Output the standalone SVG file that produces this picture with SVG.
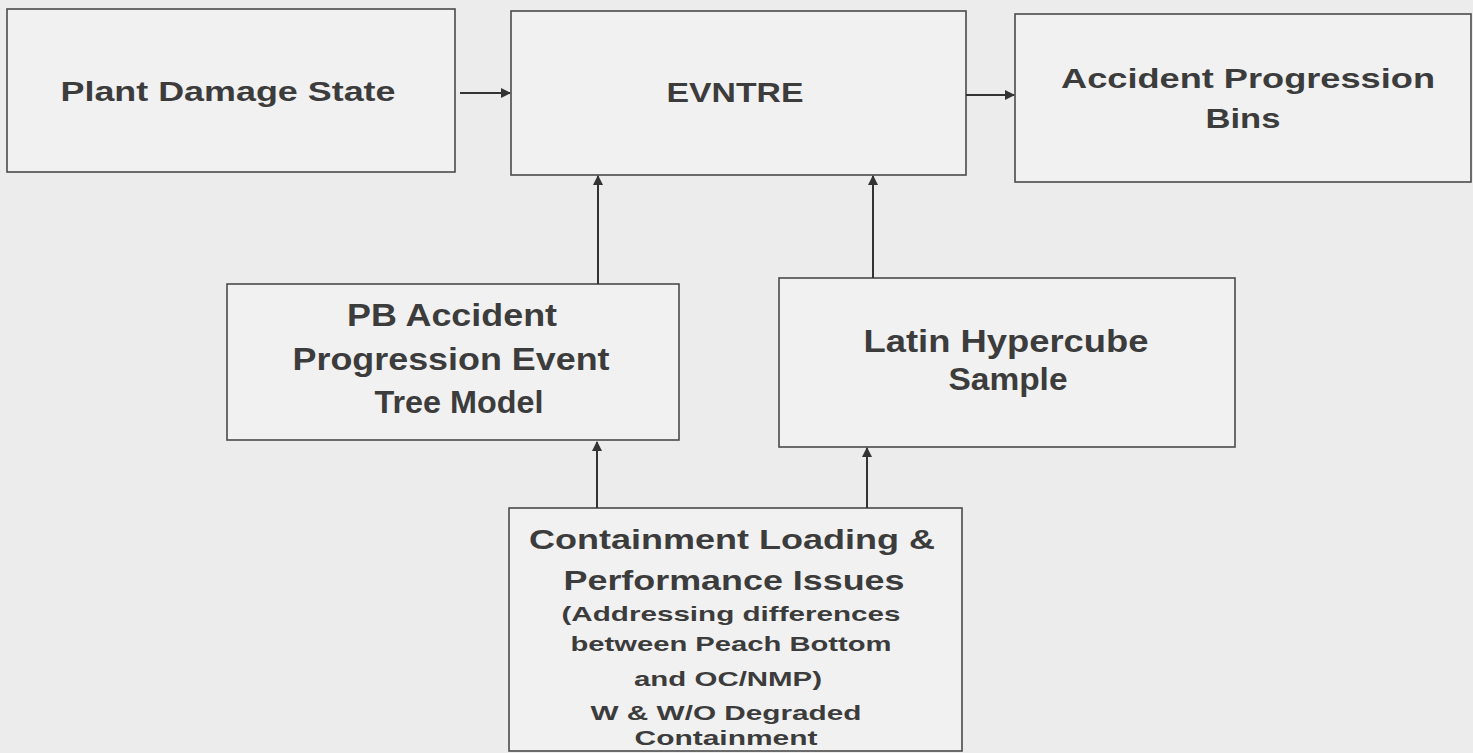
<svg xmlns="http://www.w3.org/2000/svg" width="1473" height="753" viewBox="0 0 1473 753">
<defs>
<style>
.box{fill:#f1f1f1;stroke:#4a4a4a;stroke-width:1.6}
.t{font-family:"Liberation Sans",Arial,sans-serif;font-weight:bold;fill:#3c3c3c;text-anchor:middle}
.n{font-family:"Liberation Sans",Arial,sans-serif;font-weight:bold;fill:#3c3c3c;text-anchor:middle}
.c{stroke:#333;stroke-width:2;fill:none;marker-end:url(#ah)}
</style>
<marker id="ah" viewBox="0 0 10 10" refX="9" refY="5" markerWidth="5" markerHeight="5" orient="auto" markerUnits="strokeWidth">
<path d="M0,0 L10,5 L0,10 z" fill="#333"/>
</marker>
</defs>
<rect x="0" y="0" width="1473" height="753" fill="#ececec"/>
<g id="plant-damage-state">
<rect class="box" x="7" y="9" width="448" height="163"/>
<text class="t" x="228" y="101" font-size="27" textLength="335" lengthAdjust="spacingAndGlyphs">Plant Damage State</text>
</g>
<g id="evntre">
<rect class="box" x="511" y="11" width="455" height="164"/>
<text class="t" x="735" y="102" font-size="28" textLength="137" lengthAdjust="spacingAndGlyphs">EVNTRE</text>
</g>
<g id="accident-progression-bins">
<rect class="box" x="1015" y="14" width="456" height="168"/>
<text class="t" x="1248" y="88" font-size="27" textLength="374" lengthAdjust="spacingAndGlyphs">Accident Progression</text>
<text class="t" x="1243" y="128" font-size="27" textLength="75" lengthAdjust="spacingAndGlyphs">Bins</text>
</g>
<g id="pb-event-tree">
<rect class="box" x="227" y="284" width="452" height="156"/>
<text class="n" x="452" y="326" font-size="32" textLength="210" lengthAdjust="spacingAndGlyphs">PB Accident</text>
<text class="n" x="451" y="370" font-size="32" textLength="317" lengthAdjust="spacingAndGlyphs">Progression Event</text>
<text class="n" x="459" y="413" font-size="32" textLength="169" lengthAdjust="spacingAndGlyphs">Tree Model</text>
</g>
<g id="latin-hypercube">
<rect class="box" x="779" y="278" width="456" height="169"/>
<text class="n" x="1006" y="352" font-size="32" textLength="285" lengthAdjust="spacingAndGlyphs">Latin Hypercube</text>
<text class="n" x="1008" y="390" font-size="32" textLength="119" lengthAdjust="spacingAndGlyphs">Sample</text>
</g>
<g id="containment-issues">
<rect class="box" x="509" y="508" width="453" height="243"/>
<text class="t" x="732" y="549" font-size="27" textLength="406" lengthAdjust="spacingAndGlyphs">Containment Loading &amp;</text>
<text class="t" x="734" y="590" font-size="27" textLength="341" lengthAdjust="spacingAndGlyphs">Performance Issues</text>
<text class="t" x="731" y="621" font-size="21" textLength="339" lengthAdjust="spacingAndGlyphs">(Addressing differences</text>
<text class="t" x="731" y="651" font-size="21" textLength="321" lengthAdjust="spacingAndGlyphs">between Peach Bottom</text>
<text class="t" x="728" y="686" font-size="21" textLength="188" lengthAdjust="spacingAndGlyphs">and OC/NMP)</text>
<text class="t" x="726" y="720" font-size="21" textLength="271" lengthAdjust="spacingAndGlyphs">W &amp; W/O Degraded</text>
<text class="t" x="726" y="745" font-size="21" textLength="183" lengthAdjust="spacingAndGlyphs">Containment</text>
</g>
<g id="connectors">
<line class="c" x1="460" y1="93" x2="510" y2="93"/>
<line class="c" x1="966" y1="95" x2="1014" y2="95"/>
<line class="c" x1="598" y1="284" x2="598" y2="176"/>
<line class="c" x1="873" y1="278" x2="873" y2="176"/>
<line class="c" x1="597" y1="508" x2="597" y2="442"/>
<line class="c" x1="867" y1="508" x2="867" y2="448"/>
</g>
</svg>
